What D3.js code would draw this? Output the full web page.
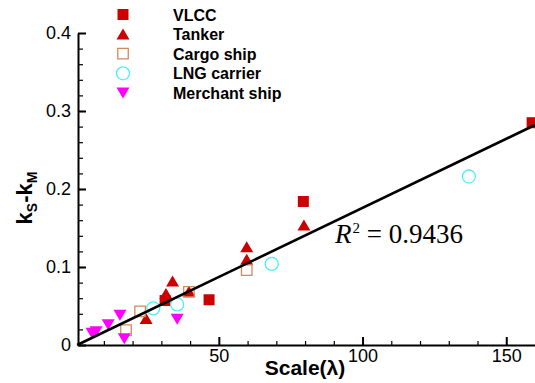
<!DOCTYPE html>
<html>
<head>
<meta charset="utf-8">
<script src="https://cdn.jsdelivr.net/npm/d3@7"></script>
<style>
  body { margin: 0; background: #fff; }
  svg { display: block; font-family: "Liberation Sans", Arial, sans-serif; }
  .tick text { font-size: 18px; fill: #000; }
  .domain, .tick line { stroke: #000; }
</style>
</head>
<body>
<svg id="canvas" width="535" height="383"></svg>
<script>
// data
const vlccX = [31.3, 46.6, 79.4, 159];
const vlccY = [0.057, 0.058, 0.184, 0.285];
const tankerX = [24.7, 31.6, 33.9, 39.6, 59.7, 59.7, 79.6];
const tankerY = [0.034, 0.066, 0.082, 0.069, 0.126, 0.110, 0.154];
const cargoX = [17.7, 22.6, 39.6, 59.7];
const cargoY = [0.019, 0.043, 0.068, 0.096];
const lngX = [27.2, 35.5, 68.4, 137];
const lngY = [0.047, 0.052, 0.104, 0.216];
const merchantX = [5.9, 7.3, 11.5, 15.6, 17.1, 35.5];
const merchantY = [0.015, 0.017, 0.026, 0.038, 0.008, 0.033];
const fitX = [0.7, 160];
const fitY = [0, 0.282];
const xTicks = [50, 100, 150];
const yTicks = [0, 0.1, 0.2, 0.3, 0.4];
const legendNames = ["VLCC", "Tanker", "Cargo ship", "LNG carrier", "Merchant ship"];

const canvas = d3.select("#canvas");

const x = d3.scaleLinear().domain([1, 160]).range([78, 535]);
const y = d3.scaleLinear().domain([0, 0.4]).range([345, 33]);

const red = "#cc0000";

// marker drawers, centred on their box
const triangle = (w, h, down) => down
    ? `M${-w / 2},${-h / 2}L${w / 2},${-h / 2}L0,${h / 2}Z`
    : `M0,${-h / 2}L${w / 2},${h / 2}L${-w / 2},${h / 2}Z`;

const styles = [
    { path: d3.symbol(d3.symbolSquare, 121)(), fill: red, stroke: "none" },
    { path: triangle(13, 11, false), fill: red, stroke: "none" },
    { path: d3.symbol(d3.symbolSquare, 110)(), fill: "none", stroke: "#d4895a" },
    { path: d3.symbol(d3.symbolCircle, 133)(), fill: "none", stroke: "#4eeef7" },
    { path: triangle(13, 11, true), fill: "#ff00ff", stroke: "none" }
];

const series = [
    d3.zip(vlccX, vlccY),
    d3.zip(tankerX, tankerY),
    d3.zip(cargoX, cargoY),
    d3.zip(lngX, lngY),
    d3.zip(merchantX, merchantY)
];

// minor ticks
canvas.append("g")
    .attr("transform", "translate(78,0)")
    .call(d3.axisLeft(y).tickValues(d3.range(0.02, 0.4, 0.02)).tickSize(-5).tickFormat(""))
    .call(g => g.select(".domain").remove())
    .selectAll("line").attr("stroke-width", 1.2);
canvas.append("g")
    .attr("transform", "translate(0,345)")
    .call(d3.axisBottom(x).tickValues(d3.range(10, 160, 10).filter(d => d % 50)).tickSize(-4).tickFormat(""))
    .call(g => g.select(".domain").remove())
    .selectAll("line").attr("stroke-width", 1.2);

// main axes
canvas.append("g")
    .attr("transform", "translate(78,0)")
    .call(d3.axisLeft(y).tickValues(yTicks).tickSize(-8).tickSizeOuter(0).tickPadding(7).tickFormat(d => d === 0 ? "0" : d3.format(".1f")(d)))
    .call(g => g.select(".domain").attr("stroke-width", 2))
    .call(g => g.selectAll(".tick line").attr("stroke-width", 2))
    .call(g => g.selectAll(".tick text").attr("font-family", null));
canvas.append("g")
    .attr("transform", "translate(0,345)")
    .call(d3.axisBottom(x).tickValues(xTicks).tickSize(-8).tickSizeOuter(0).tickPadding(4))
    .call(g => g.select(".domain").attr("stroke-width", 2))
    .call(g => g.selectAll(".tick line").attr("stroke-width", 2))
    .call(g => g.selectAll(".tick text").attr("font-family", null));

// points
series.forEach((pts, i) => {
    canvas.append("g")
        .selectAll("path")
        .data(pts)
        .enter()
        .append("path")
        .attr("d", styles[i].path)
        .attr("transform", d => `translate(${x(d[0])},${y(d[1])})`)
        .attr("fill", styles[i].fill)
        .attr("stroke", styles[i].stroke)
        .attr("stroke-width", 1.3);
});

// fit line
canvas.append("path")
    .datum(d3.zip(fitX, fitY))
    .attr("d", d3.line().x(d => x(d[0])).y(d => y(d[1])))
    .attr("fill", "none")
    .attr("stroke", "#000")
    .attr("stroke-width", 2.6);

// R^2 label
const r2 = canvas.append("text")
    .attr("x", 335)
    .attr("y", 243)
    .attr("font-family", "'Liberation Serif', 'Times New Roman', serif")
    .attr("font-size", 27);
r2.append("tspan").attr("font-style", "italic").text("R");
r2.append("tspan").attr("font-size", 15).attr("dx", 1).attr("dy", -10).text("2");
r2.append("tspan").attr("dy", 10).text(" = 0.9436");

// legend
const legend = canvas.append("g").attr("transform", "translate(123,14.5)");
legendNames.forEach((name, i) => {
    const row = legend.append("g").attr("transform", `translate(0,${i * 19.6})`);
    row.append("path")
        .attr("d", styles[i].path)
        .attr("fill", styles[i].fill)
        .attr("stroke", styles[i].stroke)
        .attr("stroke-width", 1.3);
    row.append("text")
        .attr("x", 50)
        .attr("y", 6)
        .attr("font-size", 16)
        .attr("font-weight", "bold")
        .text(name);
});

// axis titles
canvas.append("text")
    .attr("x", 305)
    .attr("y", 375)
    .attr("text-anchor", "middle")
    .attr("font-size", 21)
    .attr("font-weight", "bold")
    .text("Scale(λ)");

const yt = canvas.append("text")
    .attr("transform", "translate(32,198) rotate(-90)")
    .attr("text-anchor", "middle")
    .attr("font-size", 22)
    .attr("font-weight", "bold");
yt.append("tspan").text("k");
yt.append("tspan").attr("font-size", 14).attr("dy", 5).text("S");
yt.append("tspan").attr("dy", -5).text("-k");
yt.append("tspan").attr("font-size", 14).attr("dy", 5).text("M");
</script>
</body>
</html>
